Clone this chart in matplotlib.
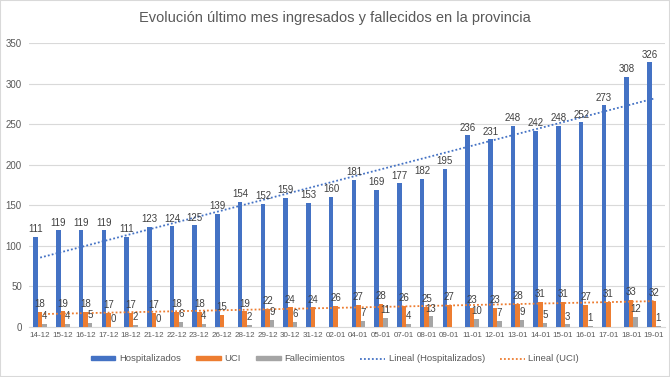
import numpy as np
import matplotlib
matplotlib.use("Agg")
import matplotlib.pyplot as plt
from matplotlib.patches import Patch, Rectangle
from matplotlib.lines import Line2D

plt.rcParams['font.family'] = ['Liberation Sans', 'DejaVu Sans']

fechas = ["14-12", "15-12", "16-12", "17-12", "18-12", "21-12", "22-12", "23-12",
          "26-12", "28-12", "29-12", "30-12", "31-12", "02-01", "04-01", "05-01",
          "07-01", "08-01", "09-01", "11-01", "12-01", "13-01", "14-01", "15-01",
          "16-01", "17-01", "18-01", "19-01"]
hospitalizados = [111, 119, 119, 119, 111, 123, 124, 125, 139, 154, 152, 159, 153, 160,
                  181, 169, 177, 182, 195, 236, 231, 248, 242, 248, 252, 273, 308, 326]
uci = [18, 19, 18, 17, 17, 17, 18, 18, 15, 19, 22, 24, 24, 26,
       27, 28, 26, 25, 27, 23, 23, 28, 31, 31, 27, 31, 33, 32]
# None = no value reported that day
fallecimientos = [4, 4, 5, 0, 2, 0, 6, 4, None, 2, 9, 6, None, None,
                  7, 11, 4, 13, None, 10, 7, 9, 5, 3, 1, None, 12, 1]

C_HOSP = "#4472C4"
C_UCI = "#ED7D31"
C_FALL = "#A5A5A5"
TXT = "#404040"

fig = plt.figure(figsize=(6.7, 3.77), dpi=100)
ax = fig.add_axes([0.043, 0.133, 0.950, 0.753])

x = np.arange(len(fechas))
w = 0.2
fall_vals = np.array([np.nan if v is None else v for v in fallecimientos], dtype=float)

ax.bar(x - w, hospitalizados, w, color=C_HOSP, zorder=3)
ax.bar(x, uci, w, color=C_UCI, zorder=3)
ax.bar(x + w, np.nan_to_num(fall_vals), w, color=C_FALL, zorder=3)

# linear trendlines (Excel style, x = 1..n)
xs = x + 1
for vals, col in [(hospitalizados, C_HOSP), (uci, C_UCI)]:
    m, c = np.polyfit(xs, vals, 1)
    ax.plot(x, m * xs + c, linestyle=(0, (1, 1.2)), color=col, lw=1.3, zorder=4)

def label(xpos, vals):
    for xi, v in zip(xpos, vals):
        if v is None:
            continue
        ax.annotate(f"{int(v)}", (xi, v), xytext=(0, 2), textcoords="offset points",
                    ha="center", va="bottom", fontsize=7, color=TXT, zorder=5)

label(x - w, hospitalizados)
label(x, uci)
label(x + w, fallecimientos)

ax.set_ylim(0, 350)
ax.set_xlim(-0.5, len(fechas) - 0.5)
ax.set_yticks(range(0, 351, 50))
ax.set_xticks(x)
ax.set_xticklabels(fechas)
ax.tick_params(axis="x", labelsize=5.8, colors="#595959", length=0, pad=4)
ax.tick_params(axis="y", labelsize=7, colors="#595959", length=0, pad=5)
ax.grid(axis="y", color="#d9d9d9", lw=0.8, zorder=0)
for s in ["top", "right", "left"]:
    ax.spines[s].set_visible(False)
ax.spines["bottom"].set_color("#d9d9d9")

fig.text(0.5, 0.952, "Evolución último mes ingresados y fallecidos en la provincia",
         ha="center", va="center", fontsize=10.5, color="#595959")

handles = [Patch(color=C_HOSP), Patch(color=C_UCI), Patch(color=C_FALL),
           Line2D([], [], color=C_HOSP, linestyle=(0, (1, 1.2)), lw=1.3),
           Line2D([], [], color=C_UCI, linestyle=(0, (1, 1.2)), lw=1.3)]
labels = ["Hospitalizados", "UCI", "Fallecimientos", "Lineal (Hospitalizados)", "Lineal (UCI)"]
fig.legend(handles, labels, loc="center", bbox_to_anchor=(0.5, 0.048), ncol=5,
           frameon=False, fontsize=6.8, labelcolor="#595959", handlelength=2.6,
           handleheight=0.35, columnspacing=1.6, handletextpad=0.4)

fig.patches.append(Rectangle((0, 0), 1, 1, transform=fig.transFigure, fill=False,
                             edgecolor="#d9d9d9", lw=1.5))

fig.savefig("out.png", dpi=100)
